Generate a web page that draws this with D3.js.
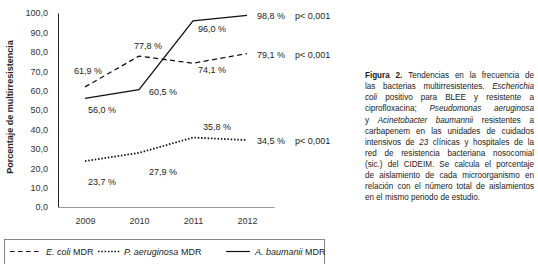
<!DOCTYPE html>
<html>
<head>
<meta charset="utf-8">
<script src="https://cdn.jsdelivr.net/npm/d3@7"></script>
<style>
  body { margin: 0; background: #fff; }
  text { font-family: "Liberation Sans", Arial, sans-serif; fill: #222; }
</style>
</head>
<body>
<div id="chart"></div>
<script>
// Data
const years = ["2009", "2010", "2011", "2012"];
const ecoli = [61.9, 77.8, 74.1, 79.1];
const paeru = [23.7, 27.9, 35.8, 34.5];
const abau = [56.0, 60.5, 96.0, 98.8];
const pValues = ["p< 0,001", "p< 0,001", "p< 0,001"];
const yTicks = [0, 10, 20, 30, 40, 50, 60, 70, 80, 90, 100];

const captionLines = [
  "*Figura* *2.* Tendencias en la frecuencia de",
  "las bacterias multirresistentes. _Escherichia_",
  "_coli_ positivo para BLEE y resistente a",
  "ciprofloxacina; _Pseudomonas_ _aeruginosa_",
  "y _Acinetobacter_ _baumannii_ resistentes a",
  "carbapenem en las unidades de cuidados",
  "intensivos de _23_ clínicas y hospitales de la",
  "red de resistencia bacteriana nosocomial",
  "(sic.) del CIDEIM. Se calcula el porcentaje",
  "de aislamiento de cada microorganismo en",
  "relación con el número total de aislamientos",
  "en el mismo periodo de estudio."
];

const width = 538;
const height = 264;

const svg = d3
  .select("#chart")
  .append("svg")
  .attr("width", width)
  .attr("height", height);

// Scales
const x = d3.scalePoint().domain(years).range([58, 274]).padding(0.5);
const y = d3.scaleLinear().domain([0, 100]).range([207, 13]);

// Y axis
const yAxis = svg
  .append("g")
  .attr("transform", "translate(58,0)")
  .call(
    d3.axisLeft(y)
      .tickValues(yTicks)
      .tickSize(0)
      .tickPadding(10)
      .tickFormat((d) => d.toFixed(1).replace(".", ","))
  );
yAxis.select("path.domain").attr("stroke", "#222").attr("stroke-width", 1);
yAxis.selectAll("text")
  .style("font-size", "9px")
  .style("font-family", "Liberation Sans, Arial, sans-serif")
  .style("fill", "#333");

// X axis
const xAxis = svg
  .append("g")
  .attr("transform", "translate(0,207)")
  .call(d3.axisBottom(x).tickSize(0).tickSizeOuter(0).tickPadding(11));
xAxis.select("path.domain").attr("stroke", "#999").attr("stroke-width", 1);
xAxis.selectAll("text")
  .style("font-size", "9px")
  .style("font-family", "Liberation Sans, Arial, sans-serif")
  .style("fill", "#333");

// Y axis title
svg
  .append("text")
  .attr("transform", "translate(13,107) rotate(-90)")
  .attr("text-anchor", "middle")
  .style("font-size", "9px")
  .style("font-weight", "bold")
  .text("Porcentaje de multirresistencia");

// Lines
const line = d3
  .line()
  .x((d, i) => x(years[i]))
  .y((d) => y(d));

const series = [
  { values: ecoli, dash: "5,3.5", width: 1.3 },
  { values: paeru, dash: "1.5,1.8", width: 1.8 },
  { values: abau, dash: null, width: 1.3 }
];

series.forEach((s) => {
  svg
    .append("path")
    .datum(s.values)
    .attr("fill", "none")
    .attr("stroke", "#111")
    .attr("stroke-width", s.width)
    .attr("stroke-dasharray", s.dash)
    .attr("d", line);
});

// Value labels (offsets relative to each point)
const fmt = (v) => v.toFixed(1).replace(".", ",") + " %";
const labelOffsets = [
  [[3, -16], [9, -10], [19, 7], [10, 1]],
  [[17, 21], [24, 19], [24, -11], [10, 1]],
  [[17, 11], [24, 2], [19, 8], [10, 1]]
];

series.forEach((s, si) => {
  s.values.forEach((v, i) => {
    const off = labelOffsets[si][i];
    const last = i === years.length - 1;
    svg
      .append("text")
      .attr("x", x(years[i]) + off[0])
      .attr("y", y(v) + off[1])
      .attr("dy", "0.35em")
      .attr("text-anchor", last ? "start" : "middle")
      .style("font-size", "9px")
      .text(fmt(v));
  });
});

// p-values
[ecoli, paeru, abau].forEach((vals, si) => {
  svg
    .append("text")
    .attr("x", 295)
    .attr("y", y(vals[vals.length - 1]) + 1)
    .attr("dy", "0.35em")
    .style("font-size", "9px")
    .text(pValues[si]);
});

// Legend
const legend = svg.append("g");
legend
  .append("rect")
  .attr("x", 4.5)
  .attr("y", 239.5)
  .attr("width", 320)
  .attr("height", 40)
  .attr("fill", "none")
  .attr("stroke", "#666")
  .attr("stroke-width", 0.8);

const legendY = 251.5;
const legendItems = [
  { x1: 10, x2: 40, tx: 46, italic: "E. coli", dash: "4.5,3.5", width: 1.2 },
  { x1: 98, x2: 120, tx: 124, italic: "P. aeruginosa", dash: "1.5,1.8", width: 1.6 },
  { x1: 226, x2: 250, tx: 255, italic: "A. baumanii", dash: null, width: 1.2 }
];
legendItems.forEach((d) => {
  legend
    .append("line")
    .attr("x1", d.x1)
    .attr("x2", d.x2)
    .attr("y1", legendY)
    .attr("y2", legendY)
    .attr("stroke", "#111")
    .attr("stroke-width", d.width)
    .attr("stroke-dasharray", d.dash);
  const t = legend
    .append("text")
    .attr("x", d.tx)
    .attr("y", legendY)
    .attr("dy", "0.35em")
    .style("font-size", "9px");
  t.append("tspan").style("font-style", "italic").text(d.italic);
  t.append("tspan").text(" MDR");
});

// Caption, justified, in a horizontally condensed face
const capX = 365;
const capW = 169;
const capY = 75;
const capLH = 11.1;
const sx = 0.9;
const caption = svg
  .append("g")
  .attr("transform", `translate(${capX},0) scale(${sx},1)`)
  .style("font-size", "9px");
const innerW = capW / sx;

captionLines.forEach((ln, li) => {
  const words = ln.split(" ").map((w) => {
    if (w.startsWith("*")) return { t: w.replace(/\*/g, ""), b: true };
    if (w.startsWith("_")) return { t: w.replace(/_/g, ""), i: true };
    return { t: w };
  });
  const nodes = words.map((w) =>
    caption
      .append("text")
      .attr("y", capY + li * capLH)
      .attr("dy", "0.35em")
      .style("font-weight", w.b ? "bold" : null)
      .style("font-style", w.i ? "italic" : null)
      .style("fill", "#1a1a1a")
      .text(w.t)
  );
  const widths = nodes.map((n) => n.node().getComputedTextLength());
  const total = d3.sum(widths);
  const isLast = li === captionLines.length - 1;
  let gap = isLast ? 2.6 : (innerW - total) / (words.length - 1);
  let scale = 1;
  if (gap < 1.5) {
    scale = (innerW - 1.5 * (words.length - 1)) / total;
    gap = 1.5;
  }
  let cx = 0;
  nodes.forEach((n, i) => {
    n.attr("x", cx);
    if (scale < 1) {
      n.attr("textLength", widths[i] * scale).attr("lengthAdjust", "spacingAndGlyphs");
    }
    cx += widths[i] * scale + gap;
  });
});
</script>
</body>
</html>
